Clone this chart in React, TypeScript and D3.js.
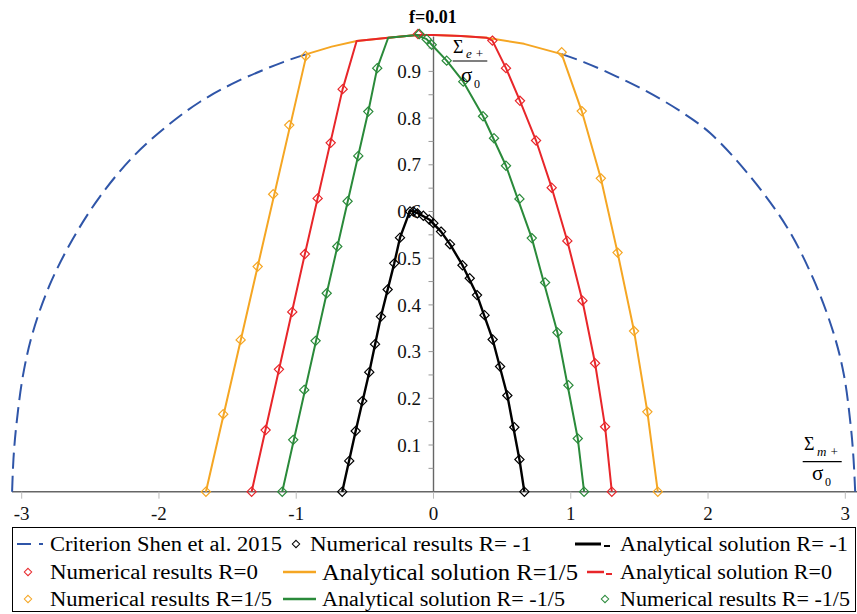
import React from "react";
import * as d3 from "d3";

type P = [number, number];

// ---------- data ----------
const xTickValues = [-3, -2, -1, 0, 1, 2, 3];
const yTickLabelValues = [0.1, 0.2, 0.3, 0.4, 0.5, 0.6, 0.7, 0.8, 0.9];
const yTickMarkValues = [0.05, 0.1, 0.15, 0.2, 0.25, 0.3, 0.35, 0.4, 0.45, 0.5, 0.55, 0.6, 0.65, 0.7, 0.75, 0.8, 0.85, 0.9, 0.95];

// Criterion Shen et al. 2015 (dashed), left and right visible parts
const criterionLeft: P[] = [
  [-3.07, 0], [-3.06, 0.07], [-3.04, 0.14], [-2.99, 0.25], [-2.92, 0.34], [-2.8, 0.44],
  [-2.63, 0.54], [-2.43, 0.632], [-2.19, 0.717], [-1.945, 0.782], [-1.7, 0.835],
  [-1.434, 0.878], [-1.095, 0.92], [-0.924, 0.937],
];
const criterionRight: P[] = [
  [0.934, 0.937], [1.095, 0.92], [1.335, 0.889], [1.554, 0.857], [1.797, 0.815], [2.015, 0.768],
  [2.307, 0.675], [2.574, 0.567], [2.768, 0.455], [2.914, 0.34], [2.99, 0.25], [3.04, 0.14],
  [3.06, 0.07], [3.072, 0],
];

// Numerical results
const numRm1: P[] = [
  [-0.665, 0], [-0.614, 0.066], [-0.567, 0.13], [-0.519, 0.194], [-0.468, 0.256], [-0.426, 0.316],
  [-0.383, 0.375], [-0.334, 0.433], [-0.286, 0.489], [-0.244, 0.544], [-0.171, 0.6], [-0.147, 0.6],
  [-0.118, 0.596], [-0.074, 0.591], [-0.031, 0.583], [-0.001, 0.575], [0.055, 0.557], [0.12, 0.53],
  [0.211, 0.485], [0.264, 0.457], [0.317, 0.421], [0.372, 0.378], [0.431, 0.326], [0.485, 0.268],
  [0.538, 0.206], [0.589, 0.138], [0.626, 0.069], [0.662, 0],
];
const numR0: P[] = [
  [-1.325, 0], [-1.223, 0.132], [-1.126, 0.262], [-1.029, 0.385], [-0.937, 0.509], [-0.844, 0.628],
  [-0.749, 0.747], [-0.662, 0.862], [-0.113, 0.98], [0.429, 0.966], [0.528, 0.907], [0.63, 0.837],
  [0.747, 0.752], [0.861, 0.651], [0.975, 0.537], [1.085, 0.409], [1.177, 0.275], [1.25, 0.139], [1.299, 0],
];
const numR15: P[] = [
  [-1.658, 0], [-1.532, 0.166], [-1.405, 0.325], [-1.281, 0.482], [-1.168, 0.637], [-1.051, 0.785],
  [-0.932, 0.933], [0.934, 0.941], [1.08, 0.815], [1.219, 0.671], [1.341, 0.512], [1.461, 0.344],
  [1.558, 0.171], [1.634, 0],
];
const numRm15: P[] = [
  [-1.102, 0], [-1.022, 0.111], [-0.942, 0.218], [-0.859, 0.323], [-0.778, 0.425], [-0.701, 0.525],
  [-0.626, 0.622], [-0.548, 0.719], [-0.475, 0.814], [-0.41, 0.907], [-0.103, 0.98], [-0.05, 0.969],
  [-0.013, 0.957], [0.096, 0.923], [0.217, 0.878], [0.361, 0.804], [0.441, 0.757], [0.528, 0.698],
  [0.626, 0.627], [0.716, 0.543], [0.813, 0.448], [0.903, 0.341], [0.983, 0.228], [1.051, 0.114], [1.097, 0],
];

// Analytical solutions
const anaRm1: P[] = [
  [-0.665, 0], [-0.567, 0.13], [-0.468, 0.256], [-0.383, 0.375], [-0.286, 0.489], [-0.244, 0.544],
  [-0.171, 0.602], [-0.118, 0.597], [-0.031, 0.583], [0.055, 0.557], [0.12, 0.53], [0.211, 0.485],
  [0.317, 0.421], [0.431, 0.326], [0.538, 0.206], [0.626, 0.069], [0.662, 0],
];
const anaR15: P[] = [
  [-1.658, 0], [-1.281, 0.482], [-0.924, 0.937], [-0.742, 0.953], [-0.56, 0.965], [-0.33, 0.972],
  [-0.12, 0.978], [0, 0.978], [0.2, 0.976], [0.388, 0.972], [0.66, 0.959], [0.934, 0.937],
  [1.08, 0.815], [1.219, 0.671], [1.341, 0.512], [1.461, 0.344], [1.558, 0.171], [1.634, 0],
];
const anaR0: P[] = [
  [-1.325, 0], [-0.937, 0.509], [-0.662, 0.862], [-0.56, 0.965], [-0.33, 0.972], [-0.12, 0.978],
  [0, 0.978], [0.2, 0.976], [0.388, 0.972], [0.429, 0.966], [0.528, 0.907], [0.63, 0.837],
  [0.747, 0.752], [0.861, 0.651], [0.975, 0.537], [1.085, 0.409], [1.177, 0.275], [1.25, 0.139], [1.299, 0],
];
const anaRm15: P[] = [
  [-1.102, 0], [-0.778, 0.425], [-0.475, 0.814], [-0.41, 0.907], [-0.33, 0.972], [-0.12, 0.978],
  [-0.05, 0.969], [-0.013, 0.957], [0.096, 0.923], [0.217, 0.878], [0.361, 0.804], [0.528, 0.698],
  [0.716, 0.543], [0.903, 0.341], [1.051, 0.114], [1.097, 0],
];

// ---------- styles ----------
const SERIF = "Liberation Serif";
const BLUE = "#2f55a8";
const ORANGE = "#f5a623";
const RED = "#e8262a";
const GREEN = "#2a8a3a";
const BLACK = "#000000";
const DIAMOND = "M0,-4.6L4.6,0L0,4.6L-4.6,0Z";

export default function App() {
  const W = 857;
  const H = 614;
  const x = d3.scaleLinear().domain([-3, 3]).range([21.7, 845.3]);
  const y = d3.scaleLinear().domain([0, 1]).range([491.7, 24.7]);
  const line = d3.line<P>().x((d) => x(d[0])).y((d) => y(d[1]));
  const smooth = d3
    .line<P>()
    .x((d) => x(d[0]))
    .y((d) => y(d[1]))
    .curve(d3.curveCatmullRom.alpha(0.5));

  const markers = (data: P[], color: string, key: string) =>
    data.map((d, i) => (
      <path
        key={key + i}
        d={DIAMOND}
        transform={`translate(${x(d[0])},${y(d[1])})`}
        fill="none"
        stroke={color}
        strokeWidth={1.2}
      />
    ));

  const x0 = x(0);
  const y0 = y(0);

  return (
    <svg
      width={W}
      height={H}
      viewBox={`0 0 ${W} ${H}`}
      fontFamily={SERIF}
      style={{ position: "fixed", left: 0, top: 0, background: "#fff" }}
    >
      <rect x={0} y={0} width={W} height={H} fill="#fff" />

      {/* axes */}
      <line x1={12} x2={857} y1={y0} y2={y0} stroke="#666" strokeWidth={1.6} />
      {xTickValues.map((v) => (
        <g key={"xt" + v}>
          <line x1={x(v)} x2={x(v)} y1={y0} y2={y0 + 7} stroke="#bbb" strokeWidth={1} />
          <text x={x(v)} y={519.5} textAnchor="middle" fontSize={19} fill="#111">
            {String(v)}
          </text>
        </g>
      ))}
      <line x1={x0} x2={x0} y1={y0} y2={y(0.975)} stroke="#666" strokeWidth={1.4} />
      {yTickMarkValues.map((v) => (
        <line key={"ym" + v} x1={x0 - 5} x2={x0} y1={y(v)} y2={y(v)} stroke="#999" strokeWidth={1} />
      ))}
      {yTickLabelValues.map((v) => (
        <text key={"yl" + v} x={421} y={y(v)} dy="0.35em" textAnchor="end" fontSize={19} fill="#111">
          {v.toFixed(1)}
        </text>
      ))}

      {/* criterion */}
      <path d={smooth(criterionLeft) || ""} fill="none" stroke={BLUE} strokeWidth={2} strokeDasharray="16,7" />
      <path d={smooth(criterionRight) || ""} fill="none" stroke={BLUE} strokeWidth={2} strokeDasharray="16,7" />

      {/* analytical solutions */}
      <path d={line(anaR15) || ""} fill="none" stroke={ORANGE} strokeWidth={2} strokeLinejoin="round" />
      <path d={line(anaR0) || ""} fill="none" stroke={RED} strokeWidth={2} strokeLinejoin="round" />
      <path d={line(anaRm15) || ""} fill="none" stroke={GREEN} strokeWidth={2} strokeLinejoin="round" />
      <path d={line(anaRm1) || ""} fill="none" stroke={BLACK} strokeWidth={2.4} strokeLinejoin="round" />

      {/* numerical results */}
      {markers(numR15, ORANGE, "o")}
      {markers(numR0, RED, "r")}
      {markers(numRm15, GREEN, "g")}
      {markers(numRm1, BLACK, "k")}

      {/* title */}
      <text x={433} y={23} textAnchor="middle" fontSize={18} fontWeight="bold" fill="#000">
        f=0.01
      </text>

      {/* y axis label */}
      <g fill="#000">
        <text x={453} y={53} fontSize={18}>Σ</text>
        <text x={466} y={58} fontSize={13} fontStyle="italic">e +</text>
        <line x1={452.7} x2={487.3} y1={61} y2={61} stroke="#000" strokeWidth={1.2} />
        <text x={461} y={82} fontSize={21}>σ</text>
        <text x={474} y={88} fontSize={12}>0</text>
      </g>
      {/* x axis label */}
      <g fill="#000">
        <text x={804} y={450} fontSize={18}>Σ</text>
        <text x={817} y={456} fontSize={13} fontStyle="italic">m +</text>
        <line x1={802.7} x2={841.7} y1={461.7} y2={461.7} stroke="#000" strokeWidth={1.2} />
        <text x={812} y={480} fontSize={21}>σ</text>
        <text x={825} y={486} fontSize={12}>0</text>
      </g>

      {/* legend */}
      <rect x={12.5} y={527.5} width={843} height={84} fill="none" stroke="#000" strokeWidth={1} />
      <g fontSize={20} fill="#000">
        {/* row 1 */}
        <line x1={17} x2={31} y1={544} y2={544} stroke={BLUE} strokeWidth={2} />
        <line x1={39} x2={43} y1={544} y2={544} stroke={BLUE} strokeWidth={2} />
        <text x={50} y={551} textLength={232} lengthAdjust="spacingAndGlyphs">Criterion  Shen et al. 2015</text>
        <path d={DIAMOND} transform="translate(296,544) scale(0.8)" fill="none" stroke={BLACK} strokeWidth={1.3} />
        <text x={310} y={551} textLength={222} lengthAdjust="spacingAndGlyphs">Numerical results R= -1</text>
        <line x1={575} x2={601} y1={544} y2={544} stroke={BLACK} strokeWidth={3} />
        <line x1={604} x2={610} y1={546} y2={546} stroke={BLACK} strokeWidth={2} />
        <text x={620} y={551} textLength={228} lengthAdjust="spacingAndGlyphs">Analytical solution R= -1</text>

        {/* row 2 */}
        <path d={DIAMOND} transform="translate(28,572) scale(0.8)" fill="none" stroke={RED} strokeWidth={1.3} />
        <text x={50} y={579} textLength={208} lengthAdjust="spacingAndGlyphs">Numerical results R=0</text>
        <line x1={283} x2={316} y1={572} y2={572} stroke={ORANGE} strokeWidth={2.5} />
        <text x={322} y={580} fontSize={23} textLength={256} lengthAdjust="spacingAndGlyphs">Analytical solution R=1/5</text>
        <line x1={587} x2={604} y1={572} y2={572} stroke={RED} strokeWidth={2.5} />
        <line x1={606} x2={612} y1={574} y2={574} stroke={RED} strokeWidth={2} />
        <text x={620} y={579} textLength={212} lengthAdjust="spacingAndGlyphs">Analytical solution R=0</text>

        {/* row 3 */}
        <path d={DIAMOND} transform="translate(28,599) scale(0.8)" fill="none" stroke={ORANGE} strokeWidth={1.3} />
        <text x={50} y={606} textLength={222} lengthAdjust="spacingAndGlyphs">Numerical results R=1/5</text>
        <line x1={283} x2={316} y1={599} y2={599} stroke={GREEN} strokeWidth={2.5} />
        <text x={322} y={606} textLength={243} lengthAdjust="spacingAndGlyphs">Analytical solution R= -1/5</text>
        <path d={DIAMOND} transform="translate(605,599) scale(0.8)" fill="none" stroke={GREEN} strokeWidth={1.3} />
        <text x={620} y={606} textLength={230} lengthAdjust="spacingAndGlyphs">Numerical results R= -1/5</text>
      </g>
    </svg>
  );
}
